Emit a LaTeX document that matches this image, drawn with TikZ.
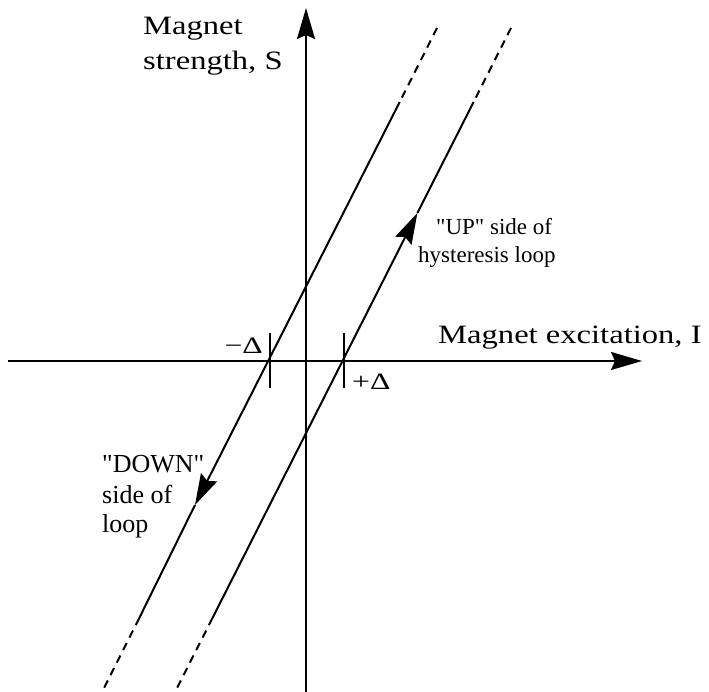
\documentclass[tikz,border=0pt]{standalone}
\usepackage{fontspec}
\setmainfont{Liberation Serif}
\newfontfamily\axfont{Liberation Serif}[FakeStretch=1.23]
\newfontfamily\dfont{Liberation Serif}[FakeStretch=1.35]
\usetikzlibrary{arrows.meta}
\begin{document}
\begin{tikzpicture}[x=1pt,y=-1pt,
  ln/.style={line width=2pt},
  dsh/.style={line width=2pt, dash pattern=on 8pt off 6pt},
  big/.style={-{Stealth[length=31pt,width=18pt,inset=4pt]}},
  axlbl/.style={anchor=base west,inner sep=0pt,font=\axfont\fontsize{26.5}{35}\selectfont},
  dlbl/.style={inner sep=0pt,font=\dfont\fontsize{23.5}{26}\selectfont},
  note/.style={anchor=base west,inner sep=0pt,font=\fontsize{24}{28}\selectfont}]
\useasboundingbox (0,0) rectangle (709,692);
% axes
\coordinate (vb) at (306,692);
\coordinate (vt) at (306,8);
\coordinate (hl) at (8,361);
\coordinate (hr) at (642,361);
\draw[ln,big] (vb) -- (vt);
\draw[ln,big] (hl) -- (hr);
% left line (DOWN side)
\coordinate (L1) at (437,28);
\coordinate (L2) at (399.7,102);
\coordinate (L3) at (139.3,618);
\coordinate (L4) at (102,692);
\coordinate (dntip) at (195,505);
\draw[dsh] (L1) -- (L2);
\draw[ln,big] (L2) -- (dntip);
\draw[ln] (dntip) -- (L3);
\draw[dsh] (L3) -- (L4);
% right line (UP side)
\coordinate (R1) at (511,28);
\coordinate (R2) at (473.6,102);
\coordinate (R3) at (212.5,618);
\coordinate (R4) at (175,692);
\coordinate (uptip) at (417.4,213);
\draw[dsh] (R1) -- (R2);
\draw[ln] (R2) -- (uptip);
\draw[ln,big] (R3) -- (uptip);
\draw[dsh] (R3) -- (R4);
% ticks
\coordinate (tl1) at (269.5,333);
\coordinate (tl2) at (269.5,388);
\coordinate (tr1) at (343.5,333);
\coordinate (tr2) at (343.5,388);
\draw[ln] (tl1) -- (tl2);
\draw[ln] (tr1) -- (tr2);
% labels
\node[dlbl,anchor=base east] (md) at (263,353) {−Δ};
\node[dlbl,anchor=base west] (pd) at (352,389) {+Δ};
\node[axlbl] (ms1) at (143,35) {Magnet};
\node[axlbl] (ms2) at (143,70) {strength, S};
\node[axlbl] (me) at (438,343) {Magnet excitation, I};
\node[note,font=\fontsize{23}{27}\selectfont] (up1) at (436,235) {\textquotedbl UP\textquotedbl{} side of};
\node[note,font=\fontsize{23}{27}\selectfont] (up2) at (418,263) {hysteresis loop};
\node[note,font=\fontsize{26}{30}\selectfont] (dn1) at (102,472) {\textquotedbl DOWN\textquotedbl};
\node[note,font=\fontsize{26}{30}\selectfont] (dn2) at (102,503) {side of};
\node[note,font=\fontsize{26}{30}\selectfont] (dn3) at (102,532) {loop};
\end{tikzpicture}
\end{document}
